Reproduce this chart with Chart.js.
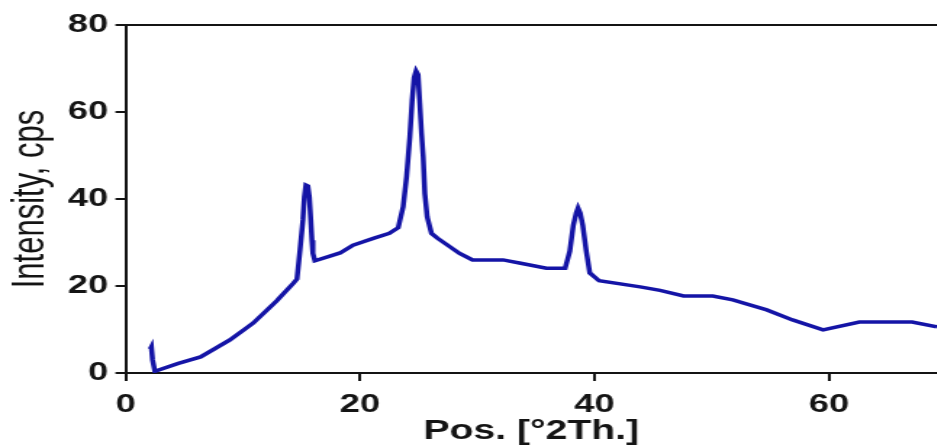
<!DOCTYPE html>
<html>
<head>
<meta charset="utf-8">
<script src="https://cdn.jsdelivr.net/npm/chart.js@4/dist/chart.umd.min.js"></script>
<style>
  html, body { margin: 0; padding: 0; background: #fff; overflow: hidden; }
  /* the reference picture is stretched sideways, so the canvas is too */
  #xrd { display: block; transform: scaleX(1.45); transform-origin: 0 0; }
</style>
</head>
<body>
<canvas id="xrd" width="646" height="445"></canvas>
<script>
"use strict";

// diffraction pattern
const twoTheta = [
  2.1, 2.2, 2.3, 2.5, 4.5, 6.4, 8.9, 10.9, 12.9, 14.3, 14.62, 14.88, 15.13, 15.25,
  15.38, 15.55, 15.68, 15.8, 15.9, 15.98, 16.15, 18.3, 19.4, 21.2, 22.5, 23.26,
  23.68, 23.97, 24.25, 24.45, 24.62, 24.78, 24.95, 25.1, 25.25, 25.39, 25.53,
  25.73, 26.1, 26.6, 28.5, 29.6, 32.2, 33.6, 35.9, 37.5, 37.9, 38.2, 38.45,
  38.6, 38.78, 39.0, 39.3, 39.6, 40.4, 43.9, 45.6, 47.6, 50.1, 51.8, 54.7,
  56.9, 59.5, 62.6, 67.1, 69.2, 70
];
const intensity = [
  5.5, 6.0, 3.0, 0.4, 2.2, 3.7, 7.6, 11.5, 16.6, 20.6, 21.6, 28.3, 35.2, 40.5,
  43.2, 43.0, 40.5, 35.2, 30.5, 27.5, 25.8, 27.6, 29.4, 31.0, 32.1, 33.4,
  38.2, 45.1, 54.3, 62.8, 68.0, 69.4, 68.6, 62.0, 55.0, 49.7, 41.3,
  35.9, 32.1, 31.0, 27.5, 26.0, 26.0, 25.3, 24.1, 24.1, 28.0, 34.0, 36.8,
  37.9, 36.8, 34.0, 28.0, 23.0, 21.2, 19.8, 19.0, 17.7, 17.7, 16.8, 14.5,
  12.2, 9.9, 11.7, 11.7, 10.6, 10.4
];
const xTicks = [0, 20, 40, 60];
const yTicks = [0, 20, 40, 60, 80];

const ink = '#141414';
const tickFont = { family: 'Liberation Sans', size: 25, weight: 'bold' };

const points = twoTheta.map((t, i) => ({ x: t, y: intensity[i] }));

new Chart(document.getElementById('xrd'), {
  type: 'line',
  data: {
    datasets: [{
      data: points,
      borderColor: '#1414a6',
      borderWidth: 3.5,
      pointRadius: 0,
      tension: 0,
      fill: false
    }]
  },
  options: {
    responsive: false,
    animation: false,
    layout: { padding: { top: 25, right: 0, bottom: 0, left: 0 } },
    plugins: {
      legend: { display: false },
      tooltip: { enabled: false }
    },
    scales: {
      x: {
        type: 'linear',
        min: 0,
        max: 69.2,
        afterBuildTicks: (scale) => { scale.ticks = xTicks.map(v => ({ value: v })); },
        afterFit: (scale) => { scale.height = 72; },
        ticks: { color: ink, font: tickFont, padding: 9, maxRotation: 0, includeBounds: false },
        grid: { drawOnChartArea: false, drawTicks: true, tickLength: 8, tickColor: ink, lineWidth: 2 },
        border: { display: true, color: ink, width: 2 },
        title: {
          display: true,
          text: 'Pos. [°2Th.]',
          color: ink,
          font: { family: 'Liberation Sans', size: 27, weight: 'bold', lineHeight: 1 },
          padding: { top: 0, bottom: 0 }
        }
      },
      y: {
        min: 0,
        max: 80,
        afterBuildTicks: (scale) => { scale.ticks = yTicks.map(v => ({ value: v })); },
        afterFit: (scale) => { scale.width = 86.6; },
        ticks: { color: ink, font: tickFont, padding: 5 },
        grid: {
          // only the 80 line is kept, it closes the frame on top
          color: (c) => (c.tick && c.tick.value === 80 ? ink : 'rgba(0,0,0,0)'),
          tickColor: ink,
          tickLength: 7,
          lineWidth: 2
        },
        border: { display: true, color: ink, width: 2 },
        title: {
          display: true,
          text: 'Intensity, cps',
          color: ink,
          font: { family: 'Liberation Sans', size: 31, weight: 'normal', lineHeight: 1 },
          padding: { top: 6, bottom: 0 }
        }
      }
    }
  }
});
</script>
</body>
</html>
